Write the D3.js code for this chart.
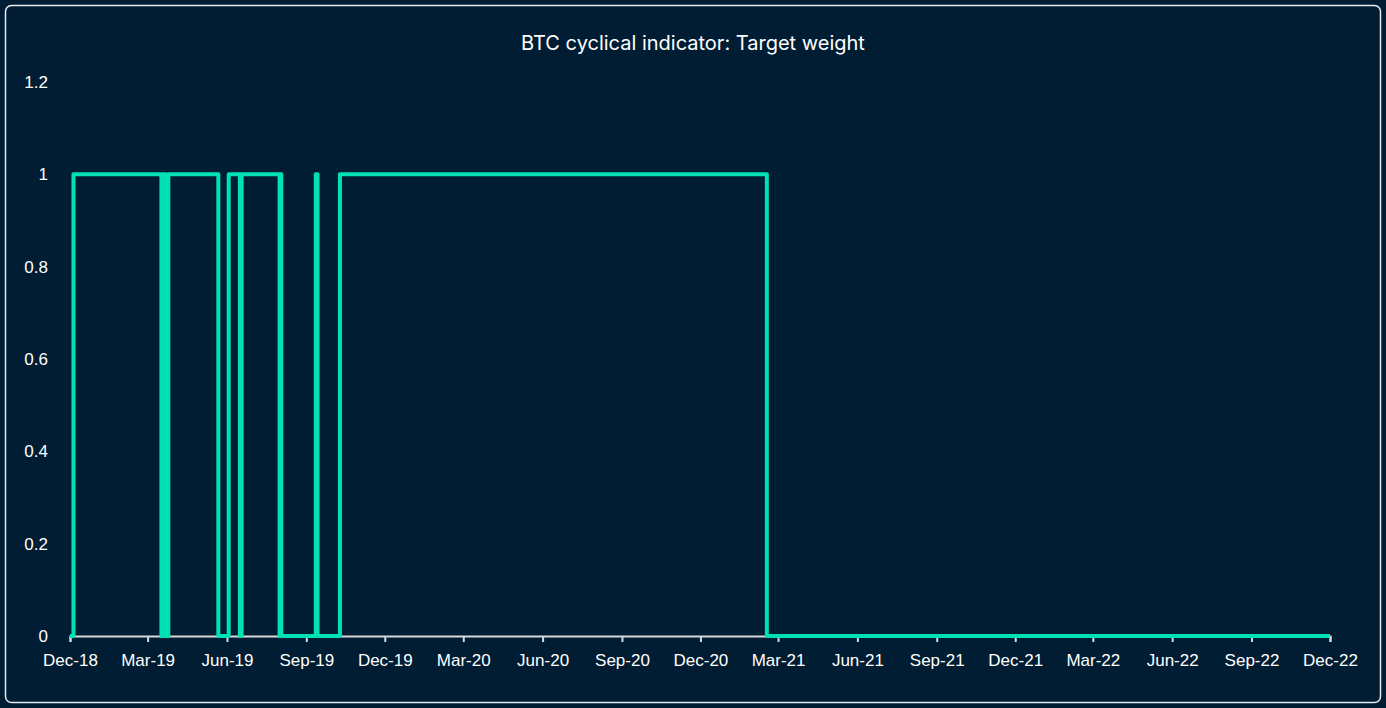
<!DOCTYPE html>
<html><head><meta charset="utf-8">
<script src="https://cdn.jsdelivr.net/npm/d3@7"></script>
<style>
body{margin:0;background:#001d33;}
</style></head><body>
<div id="chart"></div>
<script>
const switchDates = ["2018-12-01","2018-12-05","2019-03-17","2019-03-19","2019-03-22","2019-03-25",
  "2019-05-22","2019-06-03","2019-06-16","2019-06-18","2019-08-01","2019-08-02","2019-08-03",
  "2019-09-12","2019-09-14","2019-10-10","2021-02-16","2022-12-01"];
const weights = [0,1,0,1,0,1,0,1,0,1,0,1,0,1,0,1,0,0];
const yTicks = [0,0.2,0.4,0.6,0.8,1,1.2];
const xTickDates = ["2018-12-01","2019-03-01","2019-06-01","2019-09-01","2019-12-01","2020-03-01","2020-06-01","2020-09-01",
  "2020-12-01","2021-03-01","2021-06-01","2021-09-01","2021-12-01","2022-03-01","2022-06-01","2022-09-01","2022-12-01"];

const W = 1386, H = 708;
const parse = d3.utcParse("%Y-%m-%d");
const pts = switchDates.map((d,i) => ({date: parse(d), v: weights[i]}));

const svg = d3.select("#chart").append("svg").attr("width", W).attr("height", H)
  .style("font-family", "Inter, sans-serif");
svg.append("rect").attr("x",5.5).attr("y",5.5).attr("width",W-11).attr("height",H-11)
  .attr("rx",6).attr("fill","#001d33").attr("stroke","#e8ecef").attr("stroke-width",1.5);

const x = d3.scaleUtc().domain([parse("2018-12-01"), parse("2022-12-01")]).range([70, 1330]);
const y = d3.scaleLinear().domain([0, 1.2]).range([636, 82]);

svg.append("text").attr("x", W/2).attr("y", 50).attr("text-anchor","middle")
  .attr("fill","#fff").attr("font-size",20).text("BTC cyclical indicator: Target weight");

const xa = svg.append("g").attr("transform","translate(0,636)")
  .call(d3.axisBottom(x).tickValues(xTickDates.map(parse)).tickFormat(d3.utcFormat("%b-%y")).tickSize(6).tickPadding(12));
xa.select(".domain").attr("stroke","#d9d9d9").attr("stroke-width",2);
xa.selectAll(".tick line").attr("stroke","#d9d9d9").attr("stroke-width",2);
xa.selectAll("text").attr("fill","#fff").attr("font-size",17);

const ya = svg.append("g").attr("transform","translate(48,0)")
  .call(d3.axisLeft(y).tickValues(yTicks).tickFormat(d => d3.format("")(d)).tickSize(0).tickPadding(0));
ya.select(".domain").remove();
ya.selectAll("text").attr("fill","#fff").attr("font-size",17);

svg.append("path").datum(pts)
  .attr("fill","none").attr("stroke","#00e2b4").attr("stroke-width",4).attr("stroke-linejoin","round")
  .attr("d", d3.line().x(d => x(d.date)).y(d => y(d.v)).curve(d3.curveStepAfter));
</script>
</body></html>
